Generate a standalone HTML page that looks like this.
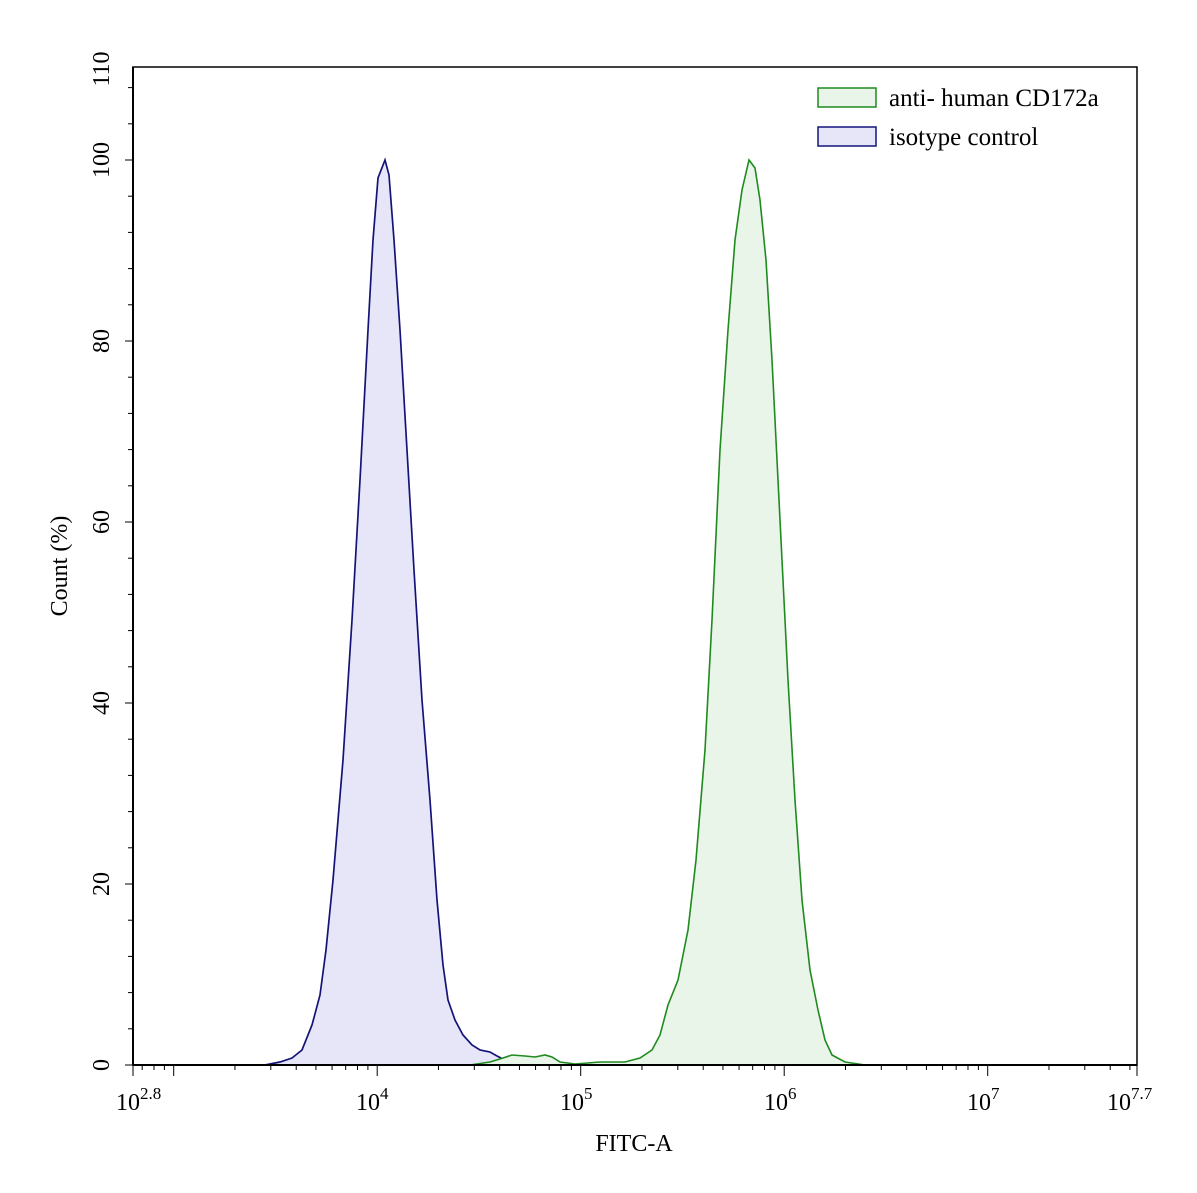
<!DOCTYPE html>
<html><head><style>body{margin:0;background:#fff}svg{display:block}</style></head><body>
<svg width="1197" height="1193" viewBox="0 0 1197 1193" font-family="Liberation Serif, serif">
<rect x="133" y="67" width="1004" height="998" fill="none" stroke="#000" stroke-width="1.5"/>
<g id="yt" stroke="#000" stroke-width="1"></g>
<g id="xt" stroke="#000" stroke-width="1"></g>
<path d="M265,1065 L280,1062 L292,1058 L302,1050 L312,1025 L320,995 L326,950 L333,880 L343,760 L352,620 L360,480 L368,330 L373,240 L378,178 L385,160 L389,175 L394,240 L400,330 L407,450 L414,570 L422,700 L430,800 L437,900 L443,965 L448,1000 L455,1020 L463,1035 L472,1045 L480,1050 L490,1052 L497,1056 L505,1060 L520,1062 L540,1064 L560,1065 Z" fill="#e6e6f8" stroke="#141478" stroke-width="1.7"/>
<path d="M470,1065 L490,1062 L503,1058 L512,1055 L525,1056 L535,1057 L545,1055 L552,1057 L560,1062 L575,1064 L600,1062 L625,1062 L640,1058 L652,1050 L660,1035 L668,1005 L678,980 L688,930 L696,860 L705,750 L712,620 L720,450 L728,330 L735,240 L742,190 L749,160 L755,168 L760,200 L766,260 L772,360 L780,520 L788,680 L795,800 L802,900 L810,970 L818,1010 L825,1040 L832,1055 L845,1062 L865,1065 Z" fill="#e8f5e8" stroke="#1f8a1f" stroke-width="1.6"/>
<line x1="133" y1="1065" x2="1137" y2="1065" stroke="#000" stroke-width="2"/>
<line x1="133" y1="67" x2="133" y2="1065" stroke="#000" stroke-width="2"/>
<rect x="818" y="88" width="58" height="19" fill="#e8f5e8" stroke="#1f8a1f" stroke-width="1.5"/>
<rect x="818" y="127" width="58" height="19" fill="#e6e6f8" stroke="#141478" stroke-width="1.5"/>
<text x="889" y="106" font-size="25">anti- human CD172a</text>
<text x="889" y="145" font-size="25">isotype control</text>
<g font-size="24" text-anchor="middle">
<text transform="translate(109,1065) rotate(-90)">0</text>
<text transform="translate(109,884) rotate(-90)">20</text>
<text transform="translate(109,703) rotate(-90)">40</text>
<text transform="translate(109,522) rotate(-90)">60</text>
<text transform="translate(109,341) rotate(-90)">80</text>
<text transform="translate(109,160) rotate(-90)">100</text>
<text transform="translate(109,69) rotate(-90)">110</text>
<text transform="translate(67,566) rotate(-90)">Count  (%)</text>
<text x="634" y="1151">FITC-A</text>
</g>
<g font-size="24">
<text x="116" y="1110">10<tspan dy="-11" font-size="17">2.8</tspan></text>
<text x="356" y="1110">10<tspan dy="-11" font-size="17">4</tspan></text>
<text x="560" y="1110">10<tspan dy="-11" font-size="17">5</tspan></text>
<text x="764" y="1110">10<tspan dy="-11" font-size="17">6</tspan></text>
<text x="967" y="1110">10<tspan dy="-11" font-size="17">7</tspan></text>
<text x="1107" y="1110">10<tspan dy="-11" font-size="17">7.7</tspan></text>
</g>
<script>
var ns="http://www.w3.org/2000/svg";
function L(g,x1,y1,x2,y2){var l=document.createElementNS(ns,"line");l.setAttribute("x1",x1);l.setAttribute("y1",y1);l.setAttribute("x2",x2);l.setAttribute("y2",y2);document.getElementById(g).appendChild(l);}
for(var v=0;v<=110;v+=4){var y=1065-v*9.05;L("yt",128,y,133,y);}
for(var v=0;v<=110;v+=20){var y=1065-v*9.05;L("yt",125,y,133,y);}
function X(lg){return 133+(lg-2.8)*203.5;}
for(var d=2;d<=7;d++){for(var k=1;k<10;k++){var lg=d+Math.log10(k);if(lg<2.8||lg>7.7)continue;var x=X(lg);L("xt",x,1065,x,k==1?1076:1070);}}
L("xt",133,1065,133,1076);L("xt",1137,1065,1137,1076);
</script>
</svg>
</body></html>
